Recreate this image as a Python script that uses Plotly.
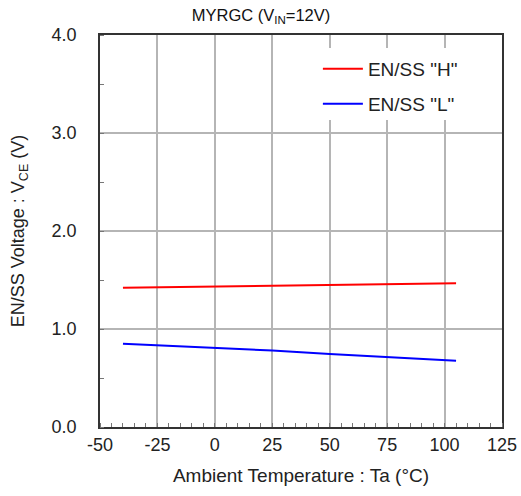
import plotly.graph_objects as go

temps = [-40, -25, 0, 25, 50, 75, 105]
en_h = [1.42, 1.425, 1.435, 1.445, 1.452, 1.46, 1.467]
en_l = [0.85, 0.835, 0.805, 0.78, 0.745, 0.715, 0.675]
x_ticks = [-50, -25, 0, 25, 50, 75, 100, 125]
y_ticks = [0.0, 1.0, 2.0, 3.0, 4.0]

FONT = "Liberation Sans, Arial, sans-serif"

fig = go.Figure()
fig.add_trace(go.Scatter(x=temps, y=en_h, mode="lines", name='EN/SS "H"', showlegend=True,
                         line=dict(color="#ff0000", width=2), legend="legend"))
fig.add_trace(go.Scatter(x=temps, y=en_l, mode="lines", name='EN/SS "L"', showlegend=True,
                         line=dict(color="#0000ff", width=2), legend="legend2"))

# white block behind legend (covers grid lines like the original)
fig.add_shape(type="rect", xref="paper", yref="paper", x0=0.5, x1=0.995,
              y0=(427 - 120) / 392, y1=(427 - 48) / 392,
              fillcolor="white", line=dict(width=0), layer="above")

axis_common = dict(showline=True, linecolor="#333", linewidth=1.5, mirror=True,
                   showgrid=True, gridcolor="#b5b5b5", gridwidth=1.5, automargin=False,
                   zeroline=False, ticks="", tickfont=dict(size=18, color="#222", family=FONT))

fig.update_xaxes(range=[-50, 125], tickvals=x_ticks, ticktext=[str(v) for v in x_ticks],
                 ticklabelstandoff=1,
                 title=dict(text="Ambient Temperature : Ta (°C)", font=dict(size=19, color="#222", family=FONT), standoff=14),
                 minor=dict(dtick=5, ticks="inside", ticklen=4, tickcolor="#777", showgrid=False),
                 **axis_common)
fig.update_yaxes(range=[0, 4], tickvals=y_ticks, ticktext=[f"{v:.1f}" for v in y_ticks],
                 ticklabelstandoff=18,
                 title=dict(text="EN/SS Voltage : V<sub>CE</sub> (V)", font=dict(size=18, color="#222", family=FONT), standoff=22),
                 minor=dict(dtick=0.5, ticks="inside", ticklen=4, tickcolor="#777", showgrid=False),
                 **axis_common)

legend_common = dict(xanchor="left", yanchor="middle", bgcolor="rgba(0,0,0,0)",
                     font=dict(size=19, color="#222", family=FONT), itemwidth=40)
fig.update_layout(
    width=521, height=496, showlegend=True,
    margin=dict(l=100, r=19, t=35, b=69),
    plot_bgcolor="white", paper_bgcolor="white",
    title=dict(text="MYRGC (V<sub>IN</sub>=12V)", x=261 / 521, xanchor="center", y=1 - 15 / 496, yanchor="middle",
               font=dict(size=16.5, color="#111", family=FONT)),
    legend=dict(x=0.542, y=(427 - 69) / 392, **legend_common),
    legend2=dict(x=0.542, y=(427 - 104) / 392, **legend_common),
)

fig.write_html("out.html", config={"displayModeBar": False},
               post_script="document.body.style.margin='0';document.body.style.overflow='hidden';")
